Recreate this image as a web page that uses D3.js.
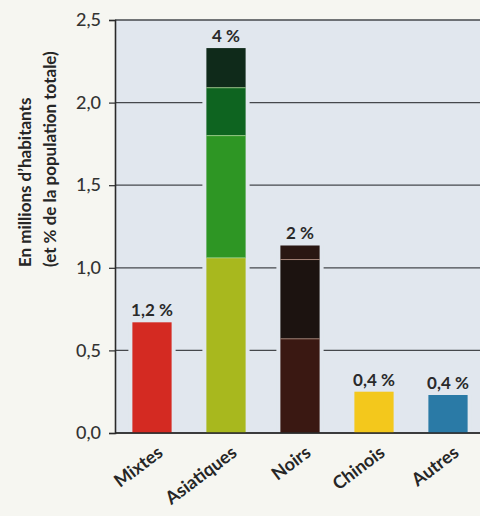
<!DOCTYPE html>
<html><head><meta charset="utf-8">
<script src="https://cdn.jsdelivr.net/npm/d3@7"></script>
<style>
html,body{margin:0;padding:0;background:#f6f6f1;}
svg{display:block;}
</style></head>
<body>
<svg id="chart" width="480" height="516"></svg>
<script>
// ---- data ----
const categories = ["Mixtes", "Asiatiques", "Noirs", "Chinois", "Autres"];
const percentLabels = ["1,2 %", "4 %", "2 %", "0,4 %", "0,4 %"];
// stacked segments (millions), bottom to top
const segment1 = [0.67, 1.06, 0.57, 0.25, 0.23];
const segment2 = [0, 0.74, 0.48, 0, 0];
const segment3 = [0, 0.29, 0.085, 0, 0];
const segment4 = [0, 0.24, 0, 0, 0];
const yTicks = [0, 0.5, 1.0, 1.5, 2.0, 2.5];
const yTitle = ["En millions d\u2019habitants", "(et % de la population totale)"];

// ---- styles ----
const segColors = [
  ["#d42a22", "#a8b81e", "#3a1812", "#f3c81c", "#2a7aa6"],
  [null, "#2e9624", "#1c1310", null, null],
  [null, "#0e6420", "#2a1712", null, null],
  [null, "#0f2a1a", null, null, null]
];
const plotBg = "#e1e7ee";
const fontFam = "Lato, 'Open Sans', sans-serif";

const svg = d3.select("#chart");
const m = {left: 115, right: 485, top: 20, bottom: 433};

const x = d3.scaleBand().domain(categories).range([m.left, m.right])
  .paddingInner(0.47).paddingOuter(0.235);
const y = d3.scaleLinear().domain([0, 2.5]).range([m.bottom, m.top]);

// plot background
svg.append("rect").attr("x", m.left).attr("y", m.top)
  .attr("width", 480 - m.left).attr("height", m.bottom - m.top).attr("fill", plotBg);

// gridlines
svg.append("g").selectAll("line").data(yTicks).join("line")
  .attr("x1", m.left).attr("x2", 480)
  .attr("y1", d => y(d)).attr("y2", d => y(d))
  .attr("stroke", "#45484c").attr("stroke-width", 1.3);

// y axis
const yAxis = d3.axisLeft(y).tickValues(yTicks)
  .tickFormat(d => d3.format(".1f")(d).replace(".", ","))
  .tickSize(6).tickPadding(8);
const ya = svg.append("g").attr("transform", `translate(${m.left},0)`).call(yAxis);
ya.select(".domain").attr("stroke", "#2a2a2a").attr("stroke-width", 1.6);
ya.selectAll(".tick line").attr("stroke", "#2a2a2a").attr("stroke-width", 1.2);
ya.selectAll(".tick text").attr("font-family", fontFam).attr("font-size", 18)
  .attr("fill", "#333").attr("font-weight", 500);

// bars
const series = [segment1, segment2, segment3, segment4];
const totals = categories.map((c, i) => series.reduce((s, a) => s + a[i], 0));

// halo behind bars
svg.append("g").selectAll("rect").data(categories).join("rect")
  .attr("x", d => x(d) - 4).attr("width", x.bandwidth() + 8)
  .attr("y", (d, i) => y(totals[i]) - 1).attr("height", (d, i) => y(0) - y(totals[i]))
  .attr("fill", plotBg);

const barG = svg.append("g");
categories.forEach((c, i) => {
  let base = 0;
  series.forEach((arr, k) => {
    const v = arr[i];
    if (v > 0) {
      barG.append("rect")
        .attr("x", x(c)).attr("width", x.bandwidth())
        .attr("y", y(base + v)).attr("height", y(base) - y(base + v))
        .attr("fill", segColors[k][i]);
      if (base > 0) {
        barG.append("line")
          .attr("x1", x(c)).attr("x2", x(c) + x.bandwidth())
          .attr("y1", y(base)).attr("y2", y(base))
          .attr("stroke", i === 1 ? "#a8d890" : "#b89080").attr("stroke-width", 1)
          .attr("opacity", 0.8);
      }
      base += v;
    }
  });
});

// bottom axis line
svg.append("line").attr("x1", m.left).attr("x2", 480)
  .attr("y1", y(0)).attr("y2", y(0)).attr("stroke", "#2a2a2a").attr("stroke-width", 1.6);

// percent labels
svg.append("g").selectAll("text").data(categories).join("text")
  .attr("x", d => x(d) + x.bandwidth() / 2)
  .attr("y", (d, i) => y(totals[i]) - 6)
  .attr("text-anchor", "middle")
  .attr("font-family", fontFam).attr("font-size", 17).attr("font-weight", 700)
  .attr("fill", "#2a2a2a")
  .text((d, i) => percentLabels[i]);

// category labels
svg.append("g").selectAll("text").data(categories).join("text")
  .attr("transform", d => `translate(${x(d) + x.bandwidth() / 2 + 12},${m.bottom + 22}) rotate(-37)`)
  .attr("text-anchor", "end")
  .attr("font-family", fontFam).attr("font-size", 18).attr("font-weight", 700)
  .attr("fill", "#262626")
  .text(d => d);

// y title
const yt = svg.append("g");
yTitle.forEach((t, i) => {
  yt.append("text")
    .attr("transform", `translate(${31 + i * 25},267) rotate(-90)`)
    .attr("text-anchor", "start")
    .attr("font-family", fontFam).attr("font-size", 17).attr("font-weight", 700)
    .attr("fill", "#262626")
    .text(t);
});
</script>
</body></html>
